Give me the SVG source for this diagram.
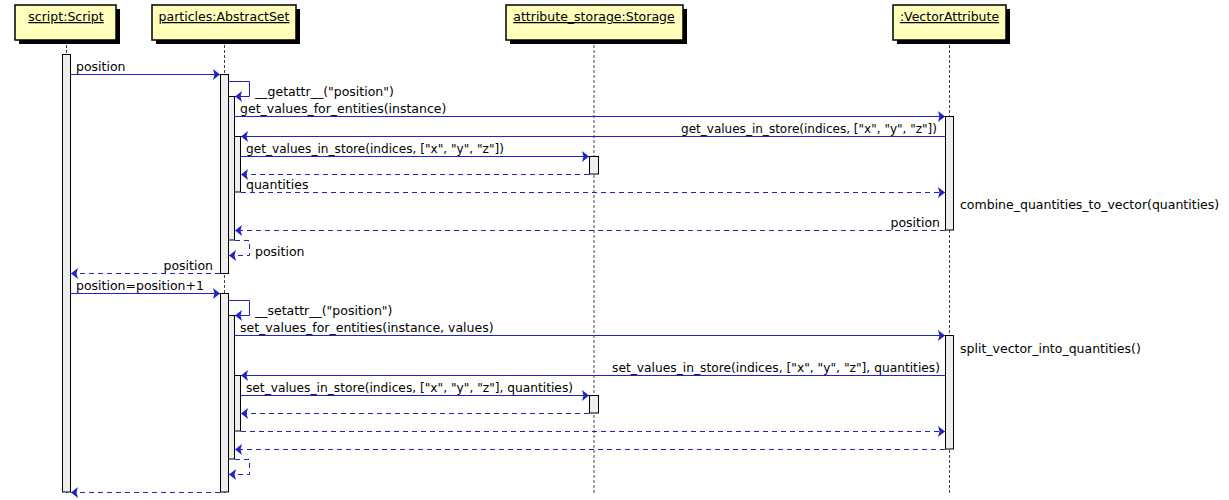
<svg xmlns="http://www.w3.org/2000/svg" width="1229" height="500" viewBox="0 0 1229 500">
<style>
text{font-family:"DejaVu Sans","Liberation Sans",sans-serif;font-size:12.5px;fill:#000}
.pbox{fill:#FFFFBB;stroke:#000;stroke-width:1.5}
.shadow{fill:#000}
.lname{text-decoration:underline;text-anchor:middle}
.life{stroke:#444;stroke-width:1;stroke-dasharray:3,2;fill:none}
.act{fill:#EEEEEE;stroke:#000;stroke-width:1}
.msg{stroke:#2222CC;stroke-width:1;fill:none;marker-end:url(#ah)}
.ret{stroke:#2222CC;stroke-width:1;fill:none;stroke-dasharray:5,4;marker-end:url(#ah)}
.end{text-anchor:end}
</style>
<defs>
<marker id="ah" markerUnits="userSpaceOnUse" viewBox="0 0 7 11" refX="7" refY="5.5" markerWidth="7" markerHeight="11" orient="auto">
<path d="M0,0 L7,5.5 L0,11 L1.5,5.5 z" fill="#2222CC"/>
</marker>
</defs>
<g id="lifelines">
<line class="life" x1="66.5" y1="40" x2="66.5" y2="493"/>
<line class="life" x1="224.5" y1="40" x2="224.5" y2="493"/>
<line class="life" x1="594" y1="40" x2="594" y2="493"/>
<line class="life" x1="949.5" y1="40" x2="949.5" y2="493"/>
</g>
<g id="script">
<rect class="shadow" x="19" y="9" width="101" height="35"/>
<rect class="pbox" x="15" y="5" width="101" height="35"/>
<text class="lname" x="66" y="21">script:Script</text>
<rect class="act" x="62.5" y="54.5" width="8" height="437.5"/>
</g>
<g id="particles">
<rect class="shadow" x="156" y="9" width="144" height="35"/>
<rect class="pbox" x="152" y="5" width="144" height="35"/>
<text class="lname" x="224" y="21">particles:AbstractSet</text>
<rect class="act" x="220.5" y="74.5" width="8" height="199"/>
<rect class="act" x="228.5" y="96.5" width="6" height="143.5"/>
<rect class="act" x="234.5" y="136.5" width="6" height="55.5"/>
<rect class="act" x="220.5" y="293.5" width="8" height="198.5"/>
<rect class="act" x="228.5" y="315.5" width="6" height="143.5"/>
<rect class="act" x="234.5" y="375.5" width="6" height="55.5"/>
</g>
<g id="storage">
<rect class="shadow" x="510" y="9" width="177" height="35"/>
<rect class="pbox" x="506" y="5" width="177" height="35"/>
<text class="lname" x="594" y="21">attribute_storage:Storage</text>
<rect class="act" x="589.5" y="156.5" width="9" height="17.5"/>
<rect class="act" x="589.5" y="395.5" width="9" height="17.5"/>
</g>
<g id="vector">
<rect class="shadow" x="897" y="9" width="113" height="35"/>
<rect class="pbox" x="893" y="5" width="113" height="35"/>
<text class="lname" x="949.5" y="21">:VectorAttribute</text>
<rect class="act" x="945.5" y="116.5" width="8" height="113.5"/>
<rect class="act" x="945.5" y="335.5" width="8" height="113.5"/>
</g>
<g id="connectors">
<line class="msg" x1="71" y1="74.5" x2="220" y2="74.5"/>
<text x="76" y="71">position</text>
<path class="msg" d="M229,81.5 H249.5 V96.5 H235"/>
<text x="255" y="96">__getattr__("position")</text>
<line class="msg" x1="235" y1="116.5" x2="945" y2="116.5"/>
<text x="240" y="113">get_values_for_entities(instance)</text>
<line class="msg" x1="945" y1="136.5" x2="241" y2="136.5"/>
<text class="end" x="937" y="133" textLength="256" lengthAdjust="spacingAndGlyphs">get_values_in_store(indices, ["x", "y", "z"])</text>
<line class="msg" x1="241" y1="156.5" x2="589" y2="156.5"/>
<text x="246" y="153" textLength="258" lengthAdjust="spacingAndGlyphs">get_values_in_store(indices, ["x", "y", "z"])</text>
<line class="ret" x1="589" y1="174.5" x2="241" y2="174.5"/>
<line class="ret" x1="241" y1="192.5" x2="945" y2="192.5"/>
<text x="246" y="189">quantities</text>
<text x="960" y="209">combine_quantities_to_vector(quantities)</text>
<line class="ret" x1="945" y1="230.5" x2="235" y2="230.5"/>
<text class="end" x="940" y="227">position</text>
<path class="ret" d="M235,240.5 H249.5 V255.5 H229"/>
<text x="255" y="256">position</text>
<line class="ret" x1="220" y1="273.5" x2="71" y2="273.5"/>
<text class="end" x="213" y="270">position</text>
<line class="msg" x1="71" y1="293.5" x2="220" y2="293.5"/>
<text x="76" y="290">position=position+1</text>
<path class="msg" d="M229,300.5 H249.5 V315.5 H235"/>
<text x="255" y="315">__setattr__("position")</text>
<line class="msg" x1="235" y1="335.5" x2="945" y2="335.5"/>
<text x="240" y="332">set_values_for_entities(instance, values)</text>
<text x="960" y="353">split_vector_into_quantities()</text>
<line class="msg" x1="945" y1="375.5" x2="241" y2="375.5"/>
<text class="end" x="940" y="372" textLength="328" lengthAdjust="spacingAndGlyphs">set_values_in_store(indices, ["x", "y", "z"], quantities)</text>
<line class="msg" x1="241" y1="395.5" x2="589" y2="395.5"/>
<text x="246" y="392" textLength="327" lengthAdjust="spacingAndGlyphs">set_values_in_store(indices, ["x", "y", "z"], quantities)</text>
<line class="ret" x1="589" y1="413.5" x2="241" y2="413.5"/>
<line class="ret" x1="241" y1="431.5" x2="945" y2="431.5"/>
<line class="ret" x1="945" y1="449.5" x2="235" y2="449.5"/>
<path class="ret" d="M235,459.5 H249.5 V474.5 H229"/>
<line class="ret" x1="220" y1="492.5" x2="71" y2="492.5"/>
</g>
</svg>
